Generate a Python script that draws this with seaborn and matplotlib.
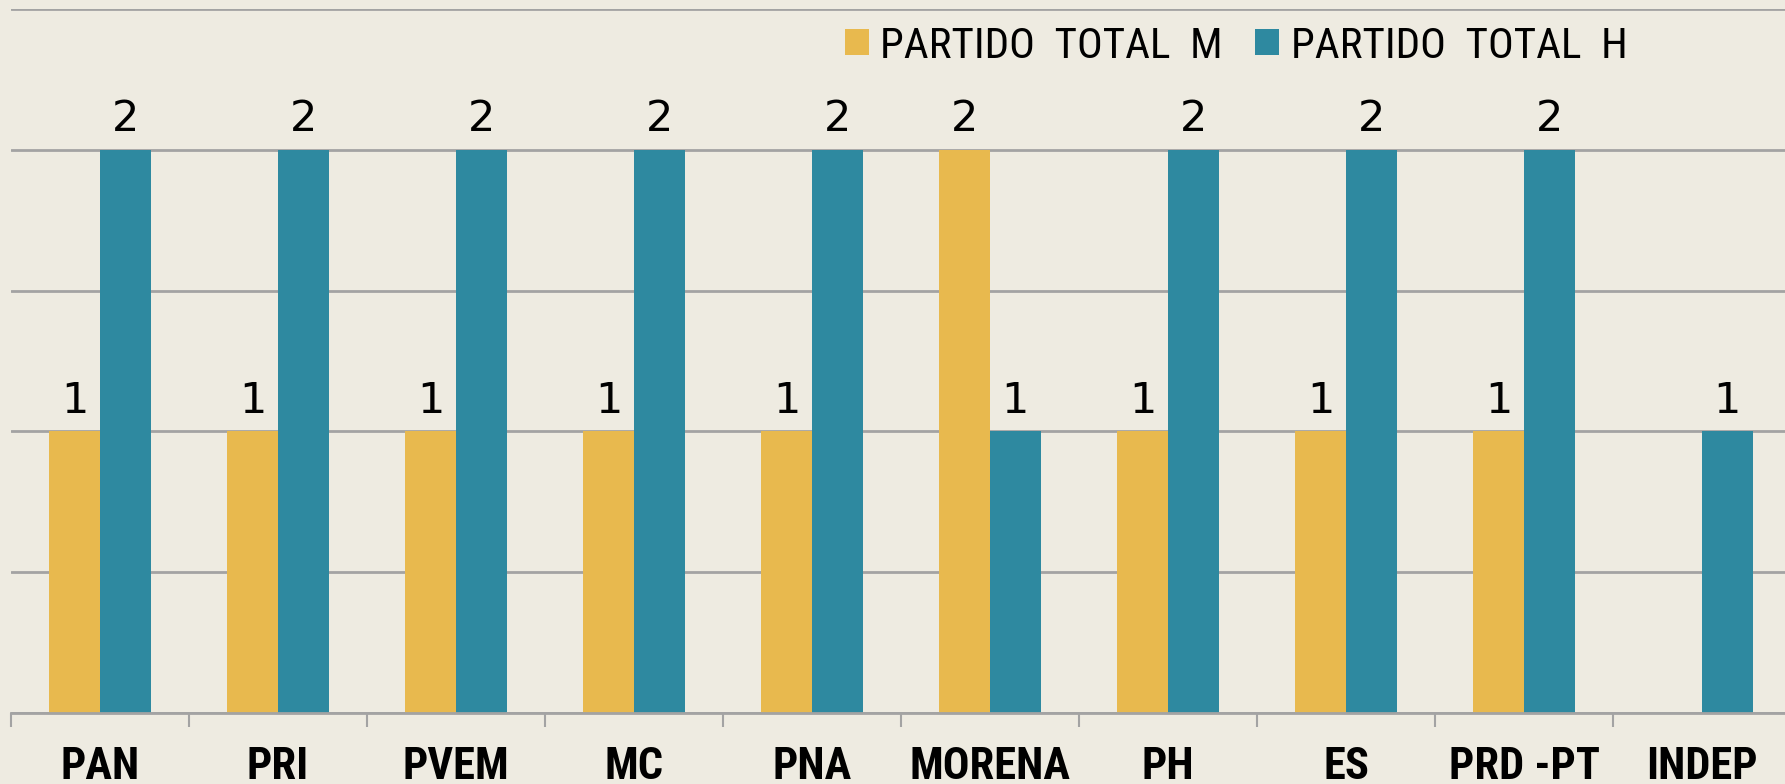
import pandas as pd
import matplotlib
matplotlib.use("Agg")
import matplotlib.pyplot as plt
import seaborn as sns
from matplotlib import font_manager
from matplotlib.patches import Patch
from matplotlib.ticker import MultipleLocator, FixedLocator

partidos = ["PAN", "PRI", "PVEM", "MC", "PNA", "MORENA", "PH", "ES", "PRD -PT", "INDEP"]
total_m = [1, 1, 1, 1, 1, 2, 1, 1, 1, None]
total_h = [2, 2, 2, 2, 2, 1, 2, 2, 2, 1]
series = ["PARTIDO  TOTAL  M", "PARTIDO  TOTAL  H"]

df = pd.DataFrame({
    "partido": partidos * 2,
    "total": total_m + total_h,
    "serie": [series[0]] * len(partidos) + [series[1]] * len(partidos),
})
df["total"] = pd.to_numeric(df["total"], errors="coerce")

bg = "#EEEBE1"
gold = "#E8B94E"
teal = "#2E89A0"
grid = "#A3A3A3"

# pick a condensed face if there is one
installed = {f.name for f in font_manager.fontManager.ttflist}
narrow = "Liberation Sans"
for name in ["Liberation Sans Narrow", "Roboto Condensed", "DejaVu Sans Condensed"]:
    if name in installed:
        narrow = name
        break

sns.set_style("white")
plt.rcParams["font.family"] = ["DejaVu Sans"]

fig = plt.figure(figsize=(17.85, 7.84), dpi=100, facecolor=bg)
ax = fig.add_axes([11 / 1785, 71 / 784, 1780 / 1785, 704 / 784])
ax.set_facecolor(bg)

sns.barplot(data=df, x="partido", y="total", hue="serie", order=partidos,
            hue_order=series, palette=[gold, teal], width=0.57, dodge=True,
            saturation=1, errorbar=None, legend=False, ax=ax, zorder=3,
            linewidth=0, edgecolor="none")

for c in ax.containers:
    ax.bar_label(c, fmt="%.0f", padding=7, fontsize=31, color="black",
                 family="DejaVu Sans")

ax.set_ylim(0, 2.5)
ax.set_xlim(-0.5, 9.5)
ax.yaxis.set_major_locator(MultipleLocator(0.5))
ax.grid(axis="y", color=grid, linewidth=2, zorder=0)
ax.set_yticklabels([])
ax.tick_params(axis="y", length=0)
ax.set_xlabel("")
ax.set_ylabel("")
for s in ["top", "right", "left"]:
    ax.spines[s].set_visible(False)
ax.spines["bottom"].set_color(grid)
ax.spines["bottom"].set_linewidth(2)
ax.spines["bottom"].set_zorder(4)

ax.xaxis.set_minor_locator(FixedLocator([i - 0.5 for i in range(len(partidos) + 1)]))
ax.tick_params(axis="x", which="minor", bottom=True, length=10, width=1.5,
               color=grid, direction="out")
ax.tick_params(axis="x", which="major", bottom=True, length=0, pad=24, labelcolor="black")
for lab in ax.get_xticklabels():
    lab.set_fontfamily(narrow)
    lab.set_fontweight("bold")
    lab.set_fontsize(32)

handles = [Patch(facecolor=gold, edgecolor="none"), Patch(facecolor=teal, edgecolor="none")]
fig.legend(handles, series, loc="center left", bbox_to_anchor=(845 / 1785, 1 - 46 / 784),
           ncol=2, frameon=False, borderpad=0, borderaxespad=0,
           handlelength=0.55, handleheight=0.55, handletextpad=0.27, columnspacing=0.75,
           labelcolor="black", prop={"family": narrow, "size": 31})

fig.savefig("out.png", dpi=100, facecolor=bg)
